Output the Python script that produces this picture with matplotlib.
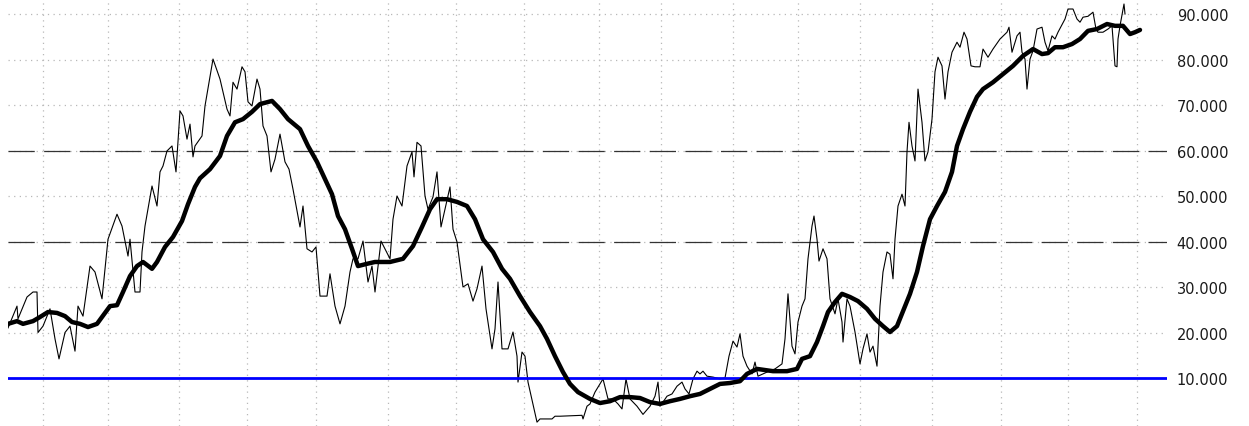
import matplotlib
matplotlib.use("Agg")
import matplotlib.pyplot as plt
import numpy as np

# bar positions (x) and values of the raw oscillator (thin line)
thin_x = [0, 9, 10, 19, 25, 29, 30, 35, 42, 47, 51, 57, 62, 67, 70, 75, 82, 87, 94, 100,
          109, 114, 120, 122, 127, 132, 134, 137, 144, 149, 152, 155, 159, 164, 168, 172, 175, 179, 182, 185,
          187, 194, 197, 205, 212, 215, 219, 222, 225, 229, 234, 237, 240, 244, 249, 252, 255, 259, 263, 267,
          272, 277, 281, 285, 292, 295, 299, 304, 308, 312, 319, 322, 327, 332, 337, 342, 345, 350, 355, 360,
          364, 367, 373, 382, 385, 389, 394, 399, 404, 406, 409, 413, 417, 420, 425, 429, 433, 437, 442, 445,
          449, 455, 460, 465, 469, 474, 478, 484, 487, 490, 494, 500, 505, 509, 510, 514, 517, 520, 529, 532,
          544, 547, 552, 574, 575, 579, 582, 587, 595, 600, 605, 610, 614, 618, 622, 629, 635, 642, 647, 650,
          652, 655, 659, 664, 669, 674, 677, 681, 685, 689, 692, 695, 699, 705, 712, 717, 721, 725, 729, 732,
          735, 739, 744, 747, 750, 759, 767, 774, 777, 780, 784, 787, 790, 794, 797, 800, 804, 806, 809, 811,
          815, 819, 822, 827, 830, 834, 835, 839, 842, 847, 852, 855, 859, 862, 865, 869, 872, 875, 879, 882,
          885, 887, 890, 894, 897, 899, 901, 904, 907, 910, 914, 917, 920, 924, 927, 930, 934, 937, 940, 944,
          949, 952, 956, 959, 963, 967, 972, 975, 980, 985, 992, 999, 1001, 1004, 1009, 1012, 1014, 1017, 1019, 1022,
          1025, 1029, 1034, 1037, 1040, 1044, 1047, 1050, 1057, 1060, 1065, 1069, 1072, 1075, 1080, 1085, 1088, 1090, 1095, 1100,
          1104, 1105, 1107, 1109, 1110, 1112, 1115, 1116, 1117]
thin_v = [21.0, 25.8, 23.0, 27.8, 28.9, 28.9, 20.0, 21.4, 25.2, 18.6, 14.2, 20.0, 21.4, 15.9, 25.8, 23.6, 34.6, 33.3, 27.4, 40.5,
          46.0, 43.4, 36.8, 40.5, 28.9, 28.9, 37.7, 43.4, 52.2, 47.8, 55.3, 56.6, 59.9, 61.0, 55.3, 68.7, 67.6, 62.5, 65.8, 58.6,
          61.0, 63.2, 69.8, 80.1, 75.7, 72.9, 69.1, 67.6, 75.0, 73.5, 78.4, 77.3, 70.7, 69.8, 75.7, 73.5, 65.4, 63.2, 55.3, 58.1,
          63.6, 57.5, 55.9, 51.5, 43.2, 47.8, 38.4, 37.7, 38.8, 28.0, 28.0, 32.9, 25.8, 21.9, 25.8, 33.3, 36.2, 36.2, 40.1, 31.1,
          34.6, 28.9, 40.1, 36.2, 44.9, 50.0, 47.8, 56.6, 59.7, 54.2, 61.8, 61.0, 50.0, 47.1, 49.8, 55.3, 43.2, 47.1, 52.0, 42.7,
          39.9, 30.0, 30.7, 26.9, 29.6, 34.6, 25.2, 16.4, 20.8, 31.1, 16.4, 16.4, 20.1, 14.8, 9.1, 15.7, 14.8, 9.1, 0.3, 1.0,
          1.0, 1.6, 1.6, 1.8, 1.0, 3.8, 4.3, 6.9, 9.8, 5.4, 5.4, 4.3, 3.2, 9.8, 5.4, 3.8, 2.0, 3.8, 6.0, 9.1,
          3.8, 4.7, 6.0, 6.5, 8.2, 9.1, 7.6, 6.5, 9.8, 11.5, 10.9, 11.5, 10.4, 10.2, 9.8, 10.0, 14.8, 18.1, 16.8, 19.7,
          14.8, 12.6, 10.9, 13.5, 10.4, 11.3, 12.0, 13.1, 18.6, 28.5, 17.0, 15.3, 22.3, 25.8, 27.4, 36.2, 43.4, 45.6, 40.5, 35.7,
          38.4, 36.2, 27.4, 24.1, 27.4, 22.3, 17.9, 27.4, 25.8, 20.1, 13.1, 16.4, 19.7, 15.7, 17.0, 12.6, 25.8, 33.3, 37.7, 37.2,
          31.8, 40.5, 47.8, 50.4, 47.8, 59.7, 66.2, 61.0, 57.7, 73.5, 66.2, 57.7, 59.7, 66.9, 77.3, 80.5, 78.6, 71.3, 77.3, 81.6,
          83.8, 82.7, 86.0, 84.5, 78.6, 78.4, 78.4, 82.3, 80.5, 82.3, 84.5, 86.0, 87.1, 81.6, 85.2, 86.0, 81.6, 80.1, 73.5, 80.1,
          81.9, 86.7, 87.1, 83.8, 81.9, 85.2, 84.5, 86.0, 88.9, 91.1, 91.1, 88.9, 88.2, 89.3, 89.5, 90.4, 86.7, 86.0, 86.0, 86.7,
          87.4, 84.5, 78.6, 78.4, 84.5, 87.4, 91.1, 92.2, 90.0]

# bar positions and values of the smoothed line (thick line)
thick_x = [0, 9, 15, 25, 32, 40, 49, 57, 64, 72, 80, 89, 94, 102, 109, 115, 122, 129, 135, 144,
           149, 157, 165, 174, 180, 187, 192, 202, 212, 219, 227, 235, 244, 252, 264, 272, 280, 292, 300, 309,
           317, 324, 330, 337, 344, 350, 359, 367, 375, 382, 395, 405, 414, 422, 429, 439, 449, 459, 467, 475,
           485, 494, 502, 512, 522, 532, 539, 547, 555, 562, 570, 582, 592, 602, 612, 622, 632, 642, 652, 662,
           672, 682, 692, 702, 712, 722, 732, 739, 749, 765, 779, 789, 794, 802, 809, 815, 820, 827, 834, 842,
           850, 859, 867, 875, 882, 889, 895, 902, 909, 915, 922, 929, 937, 944, 949, 955, 962, 969, 975, 985,
           995, 1005, 1015, 1025, 1034, 1040, 1047, 1055, 1064, 1072, 1080, 1089, 1099, 1107, 1115, 1122, 1127, 1132]
thick_v = [21.9, 22.5, 21.9, 22.5, 23.4, 24.5, 24.3, 23.6, 22.3, 21.9, 21.2, 21.9, 23.4, 25.8, 26.0, 28.9, 32.4, 34.6, 35.5, 34.0,
           35.5, 38.8, 41.0, 44.5, 48.2, 52.0, 53.9, 55.9, 58.8, 63.2, 66.2, 66.9, 68.5, 70.2, 70.9, 69.1, 66.9, 64.7, 61.0, 57.5,
           53.7, 50.4, 45.6, 42.7, 38.4, 34.6, 35.1, 35.5, 35.5, 35.5, 36.2, 39.0, 43.2, 47.1, 49.3, 49.3, 48.7, 47.8, 44.9, 40.5,
           37.7, 34.0, 31.8, 28.0, 24.5, 21.4, 18.6, 14.8, 11.3, 8.7, 6.9, 5.4, 4.5, 4.9, 5.8, 5.8, 5.6, 4.7, 4.3, 4.9,
           5.4, 6.0, 6.5, 7.6, 8.7, 8.9, 9.3, 10.9, 12.0, 11.5, 11.5, 12.0, 14.2, 14.8, 17.9, 21.4, 24.5, 26.7, 28.5, 27.8,
           26.9, 25.2, 23.0, 21.4, 20.1, 21.4, 24.7, 28.5, 33.3, 39.0, 44.9, 47.8, 50.9, 55.3, 61.0, 64.7, 68.5, 71.8, 73.5, 75.0,
           76.8, 78.6, 80.8, 82.3, 81.2, 81.4, 82.7, 82.7, 83.4, 84.5, 86.3, 86.7, 87.8, 87.4, 87.4, 85.6, 86.0, 86.5]

# month boundaries (bar positions) used as vertical grid
month_x = [35, 100, 171, 239, 308, 380, 448, 516, 591, 653, 725, 790, 852, 924, 993, 1060, 1129]
y_ticks = [10, 20, 30, 40, 50, 60, 70, 80, 90]
dash_levels = [40, 60]
base_level = 10

fig = plt.figure(figsize=(12.49, 4.27), dpi=100)
ax = fig.add_axes([8 / 1249, 0, 1159 / 1249, 1])
ax.set_xlim(0, 1159)
ax.set_ylim(-0.55, 93.3)

for s in ax.spines.values():
    s.set_visible(False)

ax.set_xticks(month_x)
ax.set_yticks(y_ticks)
ax.yaxis.tick_right()
ax.set_yticklabels(["%.3f" % v for v in y_ticks])
ax.tick_params(axis="x", length=0, labelbottom=False)
ax.tick_params(axis="y", length=0, pad=7, labelsize=10.5, labelcolor="#1a1a1a")
ax.grid(True, color="#b8b8b8", linestyle=(0, (1, 3.5)), linewidth=0.9)
ax.set_axisbelow(True)

for lv in dash_levels:
    ax.axhline(lv, color="#333333", linewidth=0.9, linestyle=(0, (21, 7.5)), zorder=1.5)

ax.plot(thin_x, thin_v, color="black", linewidth=0.8, zorder=2)
ax.axhline(base_level, color="#0000ff", linewidth=2.0, zorder=3)
ax.plot(thick_x, thick_v, color="black", linewidth=3.2, zorder=4,
        solid_capstyle="round", solid_joinstyle="round")

fig.savefig("out.png", dpi=100)
